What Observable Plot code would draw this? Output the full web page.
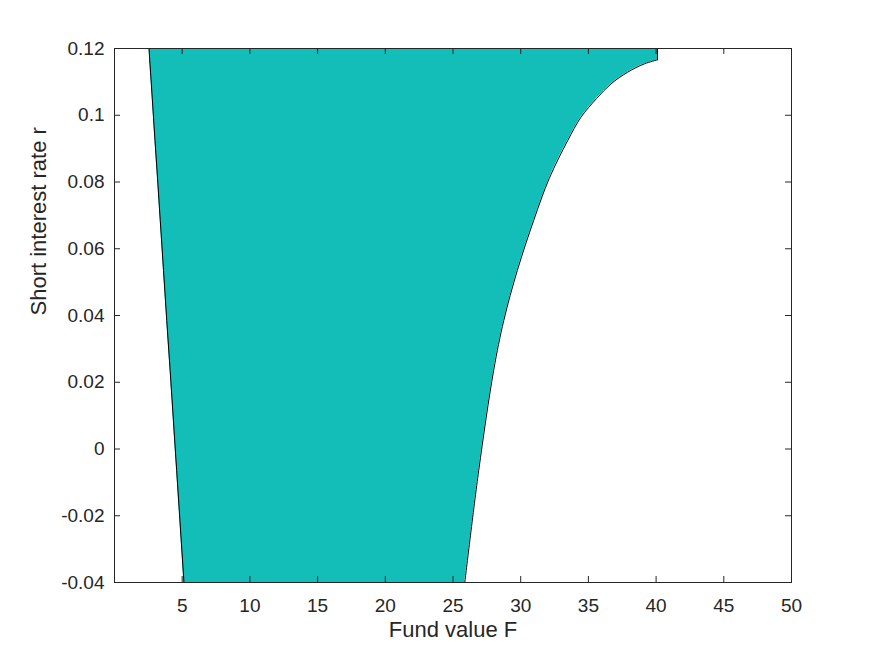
<!DOCTYPE html>
<html>
<head>
<meta charset="utf-8">
<script src="https://cdn.jsdelivr.net/npm/d3@7"></script>
<script src="https://cdn.jsdelivr.net/npm/@observablehq/plot@0.6"></script>
<style>
  html, body { margin: 0; padding: 0; background: #fff; }
  #chart { width: 875px; height: 656px; }
</style>
</head>
<body>
<div id="chart"></div>
<script>
// Short interest rate r (vertical)
const rVals  = [-0.04, -0.0064, 0.0235, 0.0385, 0.0535, 0.0685, 0.081, 0.0924, 0.0994, 0.1050, 0.1094, 0.1129, 0.1154, 0.1166, 0.12];
// Left boundary of region (fund value F)
const leftF  = [5.13, 4.59, 4.11, 3.86, 3.62, 3.38, 3.18, 2.99, 2.88, 2.79, 2.72, 2.66, 2.62, 2.60, 2.55];
// Right boundary of region (fund value F)
const rightF = [25.87, 26.9, 28.0, 28.75, 29.75, 30.96, 32.1, 33.47, 34.45, 35.6, 36.67, 37.90, 39.13, 40.1, 40.1];

const xTicks = [5, 10, 15, 20, 25, 30, 35, 40, 45, 50];
const yTicks = [-0.04, -0.02, 0, 0.02, 0.04, 0.06, 0.08, 0.1, 0.12];
const yTickLabels = ["-0.04", "-0.02", "0", "0.02", "0.04", "0.06", "0.08", "0.1", "0.12"];

const xLabel = "Fund value F";
const yLabel = "Short interest rate r";

const rows = rVals.map((r, i) => ({r, left: leftF[i], right: rightF[i]}));
const n = rows.length;
const curved = rows.slice(0, n - 1);   // smooth part of the boundary
const cap = rows.slice(n - 3);         // top part incl. the final vertical step

const axisColor = "#262626";
const fillColor = "#13bdb8";
const tickLen = 6;
const frameH = 534, frameW = 677;

const chart = Plot.plot({
  width: 875,
  height: 656,
  marginLeft: 114,
  marginRight: 84,
  marginTop: 48,
  marginBottom: 74,
  style: {fontFamily: "'Liberation Sans', Arial, Helvetica, sans-serif", fontSize: "19px", color: axisColor, background: "#fff"},
  x: {domain: [0, 50]},
  y: {domain: [-0.04, 0.12]},
  marks: [
    Plot.areaX(cap, {y: "r", x1: "left", x2: "right", fill: fillColor}),
    Plot.areaX(curved, {y: "r", x1: "left", x2: "right", fill: fillColor, curve: "catmull-rom"}),
    Plot.line(rows, {x: "left", y: "r", stroke: "#000", strokeWidth: 1}),
    Plot.line(curved, {x: "right", y: "r", stroke: "#000", strokeWidth: 1, curve: "catmull-rom"}),
    Plot.line(rows.slice(n - 2), {x: "right", y: "r", stroke: "#000", strokeWidth: 1}),
    Plot.frame({stroke: axisColor, strokeWidth: 1}),
    // inward ticks
    Plot.ruleX(xTicks, {stroke: axisColor, insetTop: frameH - tickLen}),
    Plot.ruleX(xTicks, {stroke: axisColor, insetBottom: frameH - tickLen}),
    Plot.ruleY(yTicks, {stroke: axisColor, insetRight: frameW - tickLen}),
    Plot.ruleY(yTicks, {stroke: axisColor, insetLeft: frameW - tickLen}),
    Plot.axisX(xTicks, {anchor: "bottom", tickSize: 0, tickPadding: 16, label: null, fontSize: 19, color: axisColor}),
    Plot.axisY(yTicks, {anchor: "left", tickSize: 0, tickPadding: 10, label: null, fontSize: 19, color: axisColor,
      tickFormat: (d) => yTickLabels[yTicks.indexOf(d)]}),
    Plot.text([xLabel], {frameAnchor: "bottom", dy: 54, fontSize: 22, fill: axisColor}),
    Plot.text([yLabel], {frameAnchor: "left", dx: -76, rotate: -90, fontSize: 22, fill: axisColor})
  ]
});
document.getElementById("chart").appendChild(chart);
</script>
</body>
</html>
